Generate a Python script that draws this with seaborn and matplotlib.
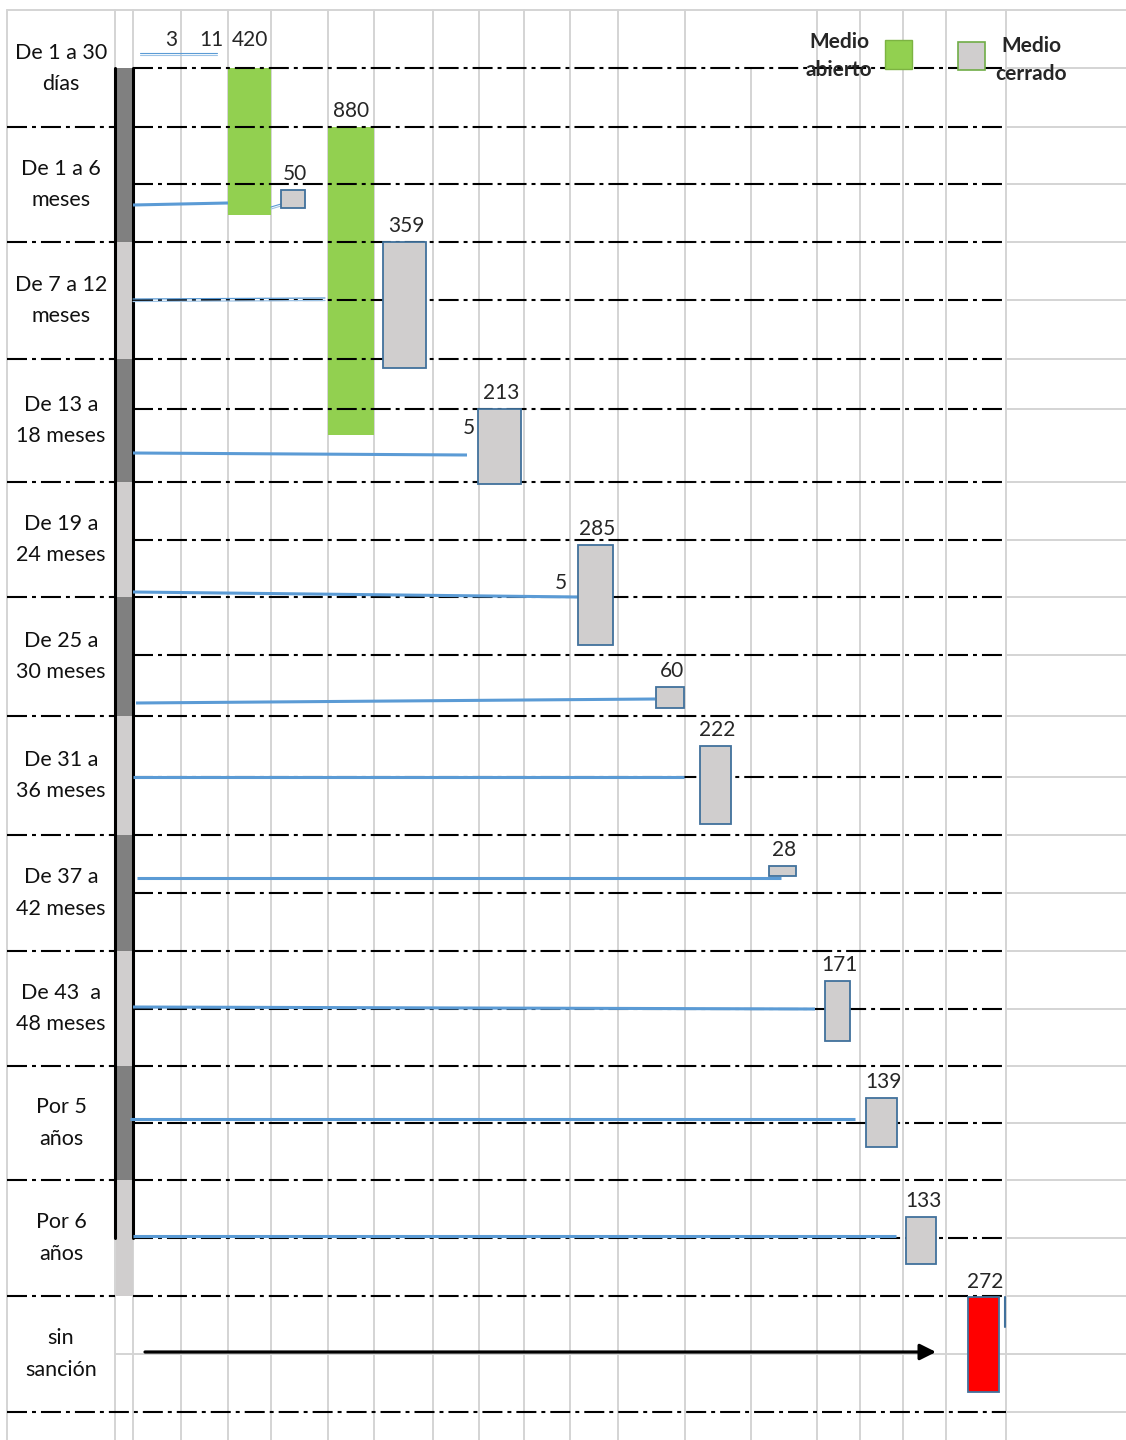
import matplotlib
matplotlib.use("Agg")
import matplotlib.pyplot as plt
from matplotlib.patches import Rectangle
import seaborn as sns

sns.set_theme(style="white")
plt.rcParams["font.family"] = ["Lato", "DejaVu Sans"]

# ---------------- data ----------------
categories = ["De 1 a 30\ndías", "De 1 a 6\nmeses", "De 7 a 12\nmeses",
              "De 13 a\n18 meses", "De 19 a\n24 meses", "De 25 a\n30 meses",
              "De 31 a\n36 meses", "De 37 a\n42 meses", "De 43  a\n48 meses",
              "Por 5\naños", "Por 6\naños", "sin\nsanción"]

open_values = [420, 880]                      # Medio abierto
closed_values = [50, 359, 213, 285, 60, 222, 28, 171, 139, 133]   # Medio cerrado
no_sanction_value = 272                        # sin sanción
small_values = [3, 11]
step_labels = [5, 5]

# ---------------- layout ----------------
W, H = 1126, 1440
PX_PER_CASE = 0.35

col_x = [7, 115, 133, 181, 228, 271, 328, 374, 433, 479, 524, 570, 618,
         685, 751, 817, 860, 903, 946, 1006]
row_y = [10, 68, 127, 184, 242, 300, 359, 409, 482, 540, 597, 655, 716,
         777, 835, 893, 951, 1009, 1066, 1123, 1180, 1238, 1296, 1354, 1412]
band_edges = [10, 127, 242, 359, 482, 597, 716, 835, 951, 1066, 1180, 1296, 1412]
CHART_RIGHT = 1006

open_left = [228, 328]
open_width = [43, 46]
open_top = [68, 127]

closed_left = [281, 383, 478, 578, 656, 700, 769, 825, 866, 906]
closed_width = [24, 43, 43, 35, 28, 31, 27, 25, 31, 30]
closed_top = [190, 242, 409, 545, 687, 746, 866, 981, 1098, 1217]

red_left, red_width, red_top = 968, 31, 1297

# connectors from the time bar towards each box
conn_x0 = [133, 133, 133, 133, 136, 133, 137, 133, 130, 133]
conn_y0 = [205, 300, 453, 592, 703, 777, 878, 1007, 1119, 1236]
conn_x1 = [228, 325, 467, 578, 655, 684, 781, 815, 855, 896]
conn_y1 = [203, 299, 455, 597, 699, 777, 878, 1009, 1119, 1236]

GREEN = "#92D050"
BOX_GRAY = "#D0CECE"
BOX_EDGE = "#41719C"
BLUE = "#5B9BD5"
GRID = "#D4D4D4"
DARK_BAND = "#808080"
LIGHT_BAND = "#D0CECE"
DASH = (0, (9.6, 2.4, 1.9, 2.4))

fig = plt.figure(figsize=(W / 100, H / 100), dpi=100)
ax = fig.add_axes([0, 0, 1, 1])
ax.set_xlim(0, W)
ax.set_ylim(H, 0)
ax.axis("off")

# ---------------- sheet grid ----------------
for x in col_x:
    y_start = row_y[1] if x == 751 else row_y[0]
    ax.plot([x, x], [y_start, H], color=GRID, lw=1.4, zorder=0)
ax.plot([col_x[0], W], [row_y[0], row_y[0]], color=GRID, lw=1.4, zorder=0)
for y in row_y[1:]:
    if y == 1354:
        ax.plot([115, W], [y, y], color=GRID, lw=1.4, zorder=0)
    else:
        ax.plot([CHART_RIGHT, W], [y, y], color=GRID, lw=1.4, zorder=0)

# dashed borders
for y in row_y[1:]:
    if y == 1354:
        continue
    x_start = 7 if y == 1412 else 133
    ax.plot([x_start, CHART_RIGHT], [y, y], color="black", lw=1.5,
            linestyle=DASH, zorder=3)
for y in band_edges[1:-1]:
    ax.plot([7, 115], [y, y], color="black", lw=1.5, linestyle=DASH, zorder=3)

# ---------------- time bar on the left ----------------
bar_top = [68] + band_edges[2:11]
bar_bottom = band_edges[2:12]
for i, (t, b) in enumerate(zip(bar_top, bar_bottom)):
    c = DARK_BAND if i % 2 == 0 else LIGHT_BAND
    ax.add_patch(Rectangle((116, t), 17, b - t, facecolor=c, edgecolor="none", zorder=2))
ax.plot([115, 115], [68, 1238], color="black", lw=2.2, zorder=4)
ax.plot([133, 133], [68, 1238], color="black", lw=2.2, zorder=4)

# ---------------- category labels ----------------
for i, lab in enumerate(categories):
    yc = (band_edges[i] + band_edges[i + 1]) / 2
    ax.text(61, yc, lab, ha="center", va="center", fontsize=15.5,
            linespacing=1.72, color="#111111", zorder=6)

# ---------------- Medio abierto (green) ----------------
ax.bar(open_left, [v * PX_PER_CASE for v in open_values], width=open_width,
       bottom=open_top, align="edge", color=GREEN, edgecolor="none", zorder=2)
open_label_dy = [28, 16]
for l, w, t, v, dy in zip(open_left, open_width, open_top, open_values, open_label_dy):
    ax.text(l + w / 2, t - dy, str(v), ha="center", va="center", fontsize=15, zorder=6)

# ---------------- connectors ----------------
for i, (x0, y0, x1, y1) in enumerate(zip(conn_x0, conn_y0, conn_x1, conn_y1)):
    if i == 1:
        ax.plot([x0, x1], [y0 - 1, y1 - 1], color=BLUE, lw=0.9, zorder=5)
        ax.plot([x0, x1], [y0 + 1.5, y1 + 1.5], color="#9DC3E6", lw=0.9, zorder=5)
    else:
        ax.plot([x0, x1], [y0, y1], color=BLUE, lw=2.2, zorder=5, solid_capstyle="butt")
# short double links
ax.plot([140, 217], [52.5, 52.5], color=BLUE, lw=0.8, zorder=5)
ax.plot([140, 217], [55, 55], color="#9DC3E6", lw=0.8, zorder=5)
ax.plot([271, 281], [207, 204], color=BLUE, lw=0.8, zorder=5)
ax.plot([271, 281], [209, 206], color="#9DC3E6", lw=0.8, zorder=5)

for v, x in zip(small_values, [171, 211]):
    ax.text(x, 40, str(v), ha="center", va="center", fontsize=15, zorder=6)

# ---------------- Medio cerrado (gray boxes) ----------------
ax.bar(closed_left, [v * PX_PER_CASE for v in closed_values], width=closed_width,
       bottom=closed_top, align="edge", color=BOX_GRAY, edgecolor=BOX_EDGE,
       linewidth=1.3, zorder=5)
for l, w, t, v in zip(closed_left, closed_width, closed_top, closed_values):
    ax.text(l + w / 2 + 2, t - 16, str(v), ha="center", va="center", fontsize=15, zorder=6)

for v, (x, y) in zip(step_labels, [(469, 428), (561, 583)]):
    ax.text(x, y, str(v), ha="center", va="center", fontsize=15, zorder=6)

# ---------------- sin sanción ----------------
ax.bar([red_left], [no_sanction_value * PX_PER_CASE], width=red_width, bottom=red_top,
       align="edge", color="#FF0000", edgecolor=BOX_EDGE, linewidth=1.3, zorder=5)
ax.text(red_left + red_width / 2 + 2, red_top - 15, str(no_sanction_value),
        ha="center", va="center", fontsize=15, zorder=6)
ax.plot([1005, 1005], [1297, 1327], color=BOX_EDGE, lw=1.5, zorder=5)
ax.annotate("", xy=(936, 1352), xytext=(145, 1352),
            arrowprops=dict(arrowstyle="-|>", color="black", lw=2.3,
                            mutation_scale=24, shrinkA=0, shrinkB=0), zorder=6)

# ---------------- legend ----------------
ax.add_patch(Rectangle((885, 40), 27, 29, facecolor=GREEN, edgecolor="#7CB342",
                       lw=1, zorder=6))
ax.add_patch(Rectangle((958, 42), 27, 28, facecolor=BOX_GRAY, edgecolor="#70AD47",
                       lw=1.2, zorder=6))
ax.text(839, 56, "Medio\nabierto", ha="center", va="center", fontsize=15,
        fontweight="bold", linespacing=1.5, zorder=7)
ax.text(1031, 60, "Medio\ncerrado", ha="center", va="center", fontsize=15,
        fontweight="bold", linespacing=1.5, zorder=7)

fig.savefig("out.png", dpi=100)
